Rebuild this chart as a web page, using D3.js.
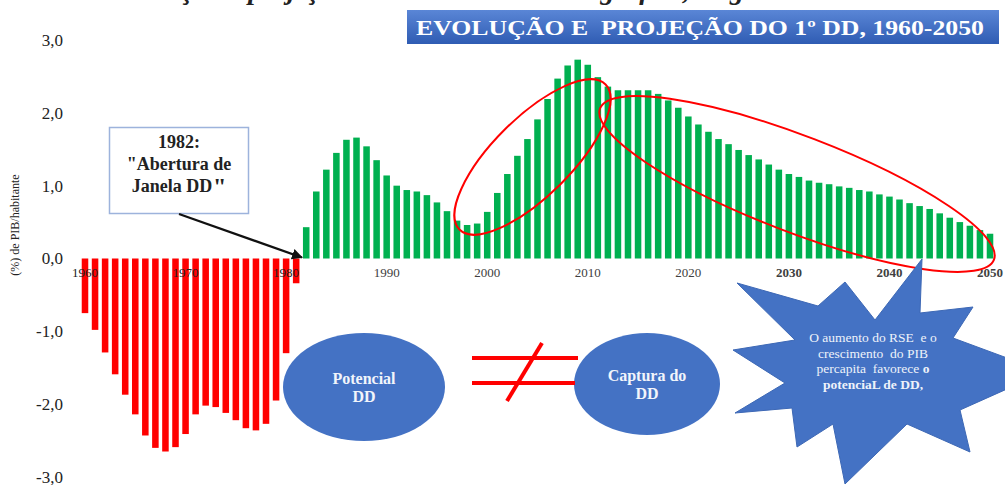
<!DOCTYPE html>
<html>
<head>
<meta charset="utf-8">
<script src="https://cdn.jsdelivr.net/npm/d3@7"></script>
<style>
  html, body { margin: 0; padding: 0; background: #ffffff; }
  svg { display: block; }
</style>
</head>
<body>
<svg id="chart" width="1005" height="485"></svg>
<script>
// Demographic dividend (DD), % of GDP per capita, 1960-2050
const years = d3.range(1960, 2051);
const ddValues = [
  -0.75, -0.98, -1.29, -1.59, -1.87, -2.14, -2.43, -2.60, -2.65, -2.59,
  -2.41, -2.14, -2.02, -2.04, -2.12, -2.22, -2.33, -2.36, -2.27, -1.95,
  -1.30, -0.34,  0.43,  0.92,  1.22,  1.45,  1.63,  1.66,  1.54,  1.35,
   1.14,  1.00,  0.94,  0.92,  0.87,  0.77,  0.65,  0.52,  0.46,  0.48,
   0.64,  0.90,  1.16,  1.41,  1.64,  1.91,  2.19,  2.47,  2.65,  2.73,
   2.66,  2.49,  2.36,  2.31,  2.31,  2.31,  2.31,  2.26,  2.17,  2.07,
   1.95,  1.84,  1.74,  1.64,  1.57,  1.49,  1.42,  1.36,  1.29,  1.22,
   1.16,  1.12,  1.07,  1.04,  1.02,  0.99,  0.97,  0.94,  0.92,  0.88,
   0.85,  0.81,  0.76,  0.72,  0.68,  0.62,  0.56,  0.50,  0.45,  0.39,
   0.34
];
const yearTicks = [1960, 1970, 1980, 1990, 2000, 2010, 2020, 2030, 2040, 2050];
const valueTicks = [-3, -2, -1, 0, 1, 2, 3];

const titleText = "EVOLUÇÃO E\u00A0 PROJEÇÃO DO 1º DD, 1960-2050";
const captionText = "Evolução e projeção do 1º dividendo demográfico, Angola";
const yLabel = "(%) de PIB/habitante";
const noteLines = ["1982:", "\"Abertura de", "Janela DD"];
const leftBubble = ["Potencial", "DD"];
const rightBubble = ["Captura do", "DD"];
const starLines = ["O aumento do RSE\u00A0 e o", "crescimento\u00A0 do PIB", "percapita\u00A0 favorece ", "potenciaL de DD,"];

const svg = d3.select("#chart");
const serif = "'Liberation Serif', 'Times New Roman', serif";

// scales
const step = 10.056;
const x = d3.scaleBand()
  .domain(years)
  .range([85 - step / 2, 990 + step / 2])
  .paddingInner(0.35)
  .paddingOuter(0.175);
const y = d3.scaleLinear().domain([-3, 3]).range([477, 40]);

// caption line clipped at the top edge
svg.append("text")
  .attr("x", 113).attr("y", -1)
  .attr("font-family", serif).attr("font-style", "italic").attr("font-weight", "bold")
  .attr("font-size", 28).attr("fill", "#222")
  .text(captionText);

// title banner
const defs = svg.append("defs");
const grad = defs.append("linearGradient").attr("id", "titleGrad")
  .attr("x1", 0).attr("y1", 0).attr("x2", 0).attr("y2", 1);
grad.append("stop").attr("offset", "0%").attr("stop-color", "#5a86d6");
grad.append("stop").attr("offset", "100%").attr("stop-color", "#2f5cb3");

svg.append("rect")
  .attr("x", 407).attr("y", 10).attr("width", 592).attr("height", 34)
  .attr("fill", "url(#titleGrad)");
svg.append("text")
  .attr("x", 416).attr("y", 35)
  .attr("textLength", 568).attr("lengthAdjust", "spacingAndGlyphs")
  .attr("font-family", serif).attr("font-weight", "bold")
  .attr("font-size", 22).attr("fill", "#ffffff")
  .text(titleText);

// bars
svg.append("g").selectAll("rect")
  .data(years.map((yr, i) => ({ year: yr, value: ddValues[i] })))
  .join("rect")
  .attr("x", d => x(d.year))
  .attr("width", x.bandwidth())
  .attr("y", d => y(Math.max(0, d.value)))
  .attr("height", d => Math.abs(y(d.value) - y(0)))
  .attr("fill", d => d.value < 0 ? "#ff0000" : "#00b050");

// x axis labels (years)
const xAxis = d3.axisBottom(x).tickValues(yearTicks).tickSize(0).tickPadding(0);
const gx = svg.append("g")
  .attr("transform", `translate(0,${y(0) + 9})`)
  .call(xAxis);
gx.select(".domain").remove();
gx.selectAll("text")
  .attr("font-family", serif).attr("font-size", 13)
  .attr("fill", d => d < 1990 ? "#222" : "#404040")
  .attr("font-weight", d => d >= 2030 ? "bold" : "normal");

// y axis labels
const yAxis = d3.axisLeft(y).tickValues(valueTicks).tickSize(0).tickPadding(0)
  .tickFormat(d => d3.format(".1f")(d).replace(".", ",").replace("\u2212", "-"));
const gy = svg.append("g")
  .attr("transform", "translate(63,0)")
  .call(yAxis);
gy.select(".domain").remove();
gy.selectAll("text")
  .attr("font-family", serif).attr("font-size", 17).attr("fill", "#222");

svg.append("text")
  .attr("transform", "translate(19,225) rotate(-90)")
  .attr("text-anchor", "middle")
  .attr("font-family", serif).attr("font-size", 12).attr("fill", "#222")
  .text(yLabel);

// "window opening" note with arrow
defs.append("marker").attr("id", "arrowHead")
  .attr("viewBox", "0 0 10 10").attr("refX", 9).attr("refY", 5)
  .attr("markerWidth", 5).attr("markerHeight", 5).attr("orient", "auto")
  .append("path").attr("d", "M0,0 L10,5 L0,10 z").attr("fill", "#111");

svg.append("rect")
  .attr("x", 109.5).attr("y", 127.5).attr("width", 139).attr("height", 86)
  .attr("fill", "#ffffff").attr("stroke", "#9db3dc").attr("stroke-width", 1.5);
const note = svg.append("text")
  .attr("font-family", serif).attr("font-weight", "bold")
  .attr("font-size", 18).attr("fill", "#222").attr("text-anchor", "middle");
noteLines.forEach((t, i) => {
  note.append("tspan").attr("x", i === 2 ? 172 : 179).attr("y", 148 + i * 22).text(t);
});
// raised closing quote after "Janela DD"
svg.append("text")
  .attr("x", 213).attr("y", 194)
  .attr("font-family", serif).attr("font-weight", "bold")
  .attr("font-size", 24).attr("fill", "#222")
  .text("\"");
svg.append("line")
  .attr("x1", 179).attr("y1", 214).attr("x2", x(1982) - 1).attr("y2", y(0) - 1)
  .attr("stroke", "#111").attr("stroke-width", 2.2)
  .attr("marker-end", "url(#arrowHead)");

// highlight ellipses
function ringEllipse(cx, cy, rx, ry, angle) {
  svg.append("ellipse")
    .attr("cx", 0).attr("cy", 0).attr("rx", rx).attr("ry", ry)
    .attr("transform", `translate(${cx},${cy}) rotate(${angle})`)
    .attr("fill", "none").attr("stroke", "#ff0000").attr("stroke-width", 2);
}
ringEllipse(532.5, 157, 103, 39, -44.8);
ringEllipse(797, 184, 211, 48, 21);

// bubbles
const blue = "#4472c4";
function bubble(cx, cy, rx, ry, lines, dy) {
  svg.append("ellipse").attr("cx", cx).attr("cy", cy).attr("rx", rx).attr("ry", ry).attr("fill", blue);
  const t = svg.append("text").attr("text-anchor", "middle")
    .attr("font-family", serif).attr("font-weight", "bold").attr("font-size", 16).attr("fill", "#f2f5fb");
  lines.forEach((l, i) => t.append("tspan").attr("x", cx).attr("y", cy + dy + i * 18).text(l));
}
bubble(364, 387, 81, 54, leftBubble, -3);
bubble(647, 384, 73, 51, rightBubble, -3);

// "not equal" sign
const neq = svg.append("g").attr("stroke", "#ff0000").attr("stroke-width", 4);
neq.append("line").attr("x1", 472).attr("y1", 358).attr("x2", 578).attr("y2", 358);
neq.append("line").attr("x1", 472).attr("y1", 383).attr("x2", 575).attr("y2", 383);
neq.append("line").attr("x1", 507).attr("y1", 401).attr("x2", 542).attr("y2", 343);

// explosion callout
const starPts = [
  [737, 283], [818, 306], [845, 282], [875, 320], [922, 259], [920, 313],
  [973, 307], [953, 338], [1045, 372], [960, 410], [970, 452], [907, 424],
  [845, 484], [833, 424], [797, 447], [792, 408], [735, 413], [785, 383],
  [733, 350], [795, 340]
];
svg.append("path")
  .attr("d", d3.line()(starPts) + "Z")
  .attr("fill", blue).attr("stroke", "#3d68b5").attr("stroke-width", 1);
const st = svg.append("text").attr("text-anchor", "middle")
  .attr("font-family", serif).attr("font-size", 13.5).attr("fill", "#eef2fa");
starLines.forEach((l, i) => {
  const ts = st.append("tspan").attr("x", 873).attr("y", 342 + i * 15.7).text(l);
  if (i === 3) ts.attr("font-weight", "bold");
  if (i === 2) st.append("tspan").attr("font-weight", "bold").text("o");
});
</script>
</body>
</html>
